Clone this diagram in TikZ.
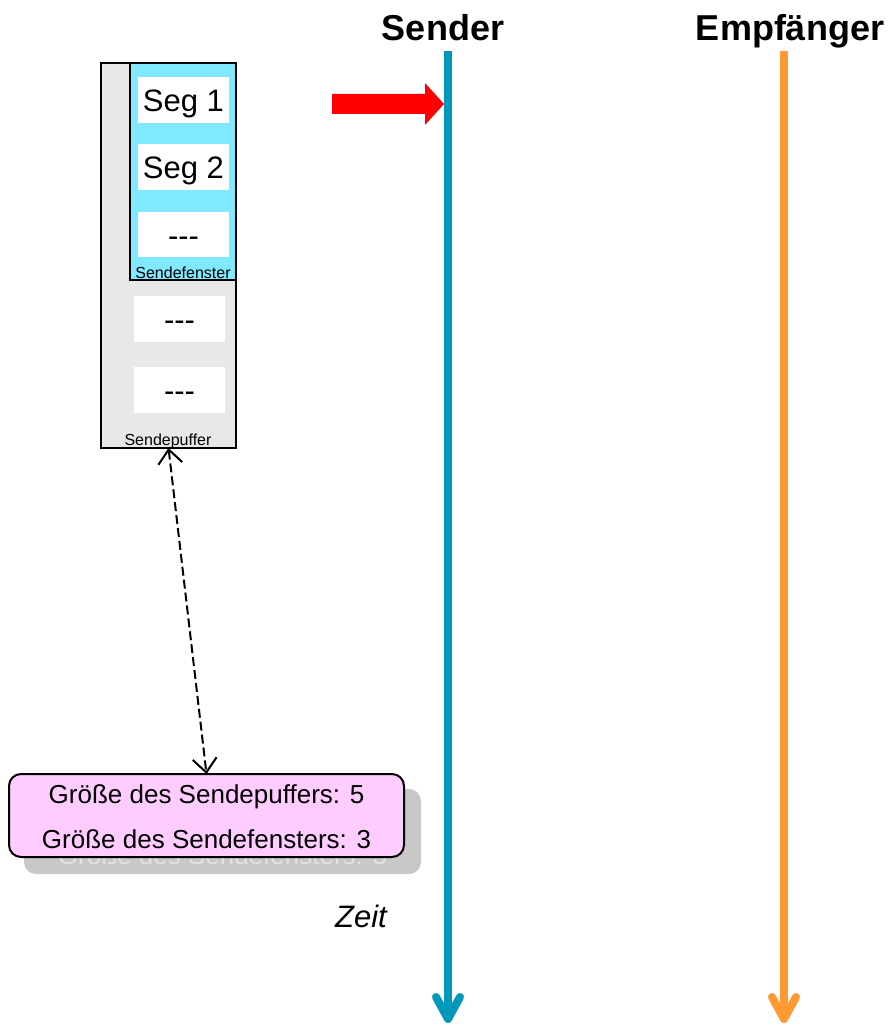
\documentclass[tikz,border=0pt]{standalone}
\usepackage{fontspec}
\setmainfont{Liberation Sans}
\usetikzlibrary{arrows.meta,calc}

\definecolor{senderblue}{HTML}{0099BB}
\definecolor{recvorange}{HTML}{FF9933}
\definecolor{wincyan}{HTML}{80E8FF}
\definecolor{bufgray}{HTML}{E8E8E8}
\definecolor{infopink}{HTML}{FFCCFF}
\definecolor{shadowgray}{HTML}{C8C8C8}
\definecolor{shadowtext}{HTML}{E2E2E2}

\newcommand\pxsize[1]{\fontsize{#1}{#1}\selectfont}

\begin{document}
\begin{tikzpicture}[x=1pt,y=-1pt,
  framebox/.style={draw=black, line width=2pt, inner sep=0pt, outer sep=0pt},
  slot/.style={fill=white, inner sep=0pt, outer sep=0pt,
    minimum width=91pt, minimum height=46pt,
    text height=23pt, text depth=0pt, font=\pxsize{31}},
  smalllabel/.style={font=\pxsize{16}, anchor=base, inner sep=0pt},
  title/.style={font=\bfseries\pxsize{36}, anchor=base, inner sep=0pt},
  infotext/.style={font=\pxsize{26}, anchor=base, inner sep=0pt},
  lifeline/.style={line width=8pt},
  lifehead/.style={line width=8pt, line cap=round, line join=round},
  sizelink/.style={line width=2pt, dash pattern=on 9pt off 4pt,
    {Straight Barb[length=14pt,width=24pt,line width=2pt]}-{Straight Barb[length=14pt,width=24pt,line width=2pt]}},
]
\useasboundingbox (0,0) rectangle (892,1024);

% titles
\node[title] (sender) at (443,41) {Sender};
\node[title] (empf) at (790,41) {Empfänger};

% lifelines with open arrow heads
\coordinate (sTop) at (448,51);
\coordinate (sBot) at (448,1019);
\coordinate (eTop) at (784,51);
\coordinate (eBot) at (784,1019);
\draw[lifeline, senderblue] (sTop) -- (sBot);
\draw[lifehead, senderblue] ($(sBot)+(-12,-22)$) -- (sBot) -- ($(sBot)+(12,-22)$);
\draw[lifeline, recvorange] (eTop) -- (eBot);
\draw[lifehead, recvorange] ($(eBot)+(-12,-22)$) -- (eBot) -- ($(eBot)+(12,-22)$);

% red block arrow pointing at the sender
\fill[red] (332,94) -- (425,94) -- (425,83) -- (444,104) -- (425,125)
  -- (425,114) -- (332,114) -- cycle;

% send buffer with send window
\node[framebox, fill=bufgray, minimum width=135pt, minimum height=385pt]
  (buf) at (168.5,255.5) {};
\node[framebox, fill=wincyan, minimum width=106pt, minimum height=217pt]
  (win) at (183,171.5) {};

\node[slot] (seg1) at (183.5,100) {Seg 1};
\node[slot] (seg2) at (183.5,167) {Seg 2};
\node[slot, minimum height=45pt] (seg3) at (183.5,234.5) {-{}-{}-};
\node[slot] (seg4) at (179.5,319) {-{}-{}-};
\node[slot] (seg5) at (179.5,390) {-{}-{}-};

\node[smalllabel] (winlabel) at (183,278) {Sendefenster};
\node[smalllabel] (buflabel) at (168,445.5) {Sendepuffer};

% info box with drop shadow
\node[fill=shadowgray, rounded corners=12pt, inner sep=0pt,
  minimum width=397pt, minimum height=85pt] (infoshadow) at (222.5,831.5) {};
\node[infotext, text=shadowtext] (shadowline) at (222.5,864) {Größe des Sendefensters: 3};
\node[framebox, fill=infopink, rounded corners=12pt,
  minimum width=395pt, minimum height=83pt] (info) at (206.5,815.5) {};
\node[infotext] (line1) at (206.5,803) {Größe des Sendepuffers: 5};
\node[infotext] (line2) at (206.5,848) {Größe des Sendefensters: 3};

% link between buffer and info box
\draw[sizelink] (buf.south) -- (info.north);

% time label
\node[font=\itshape\pxsize{31}, anchor=base, inner sep=0pt] (zeit) at (361,927) {Zeit};
\end{tikzpicture}
\end{document}
